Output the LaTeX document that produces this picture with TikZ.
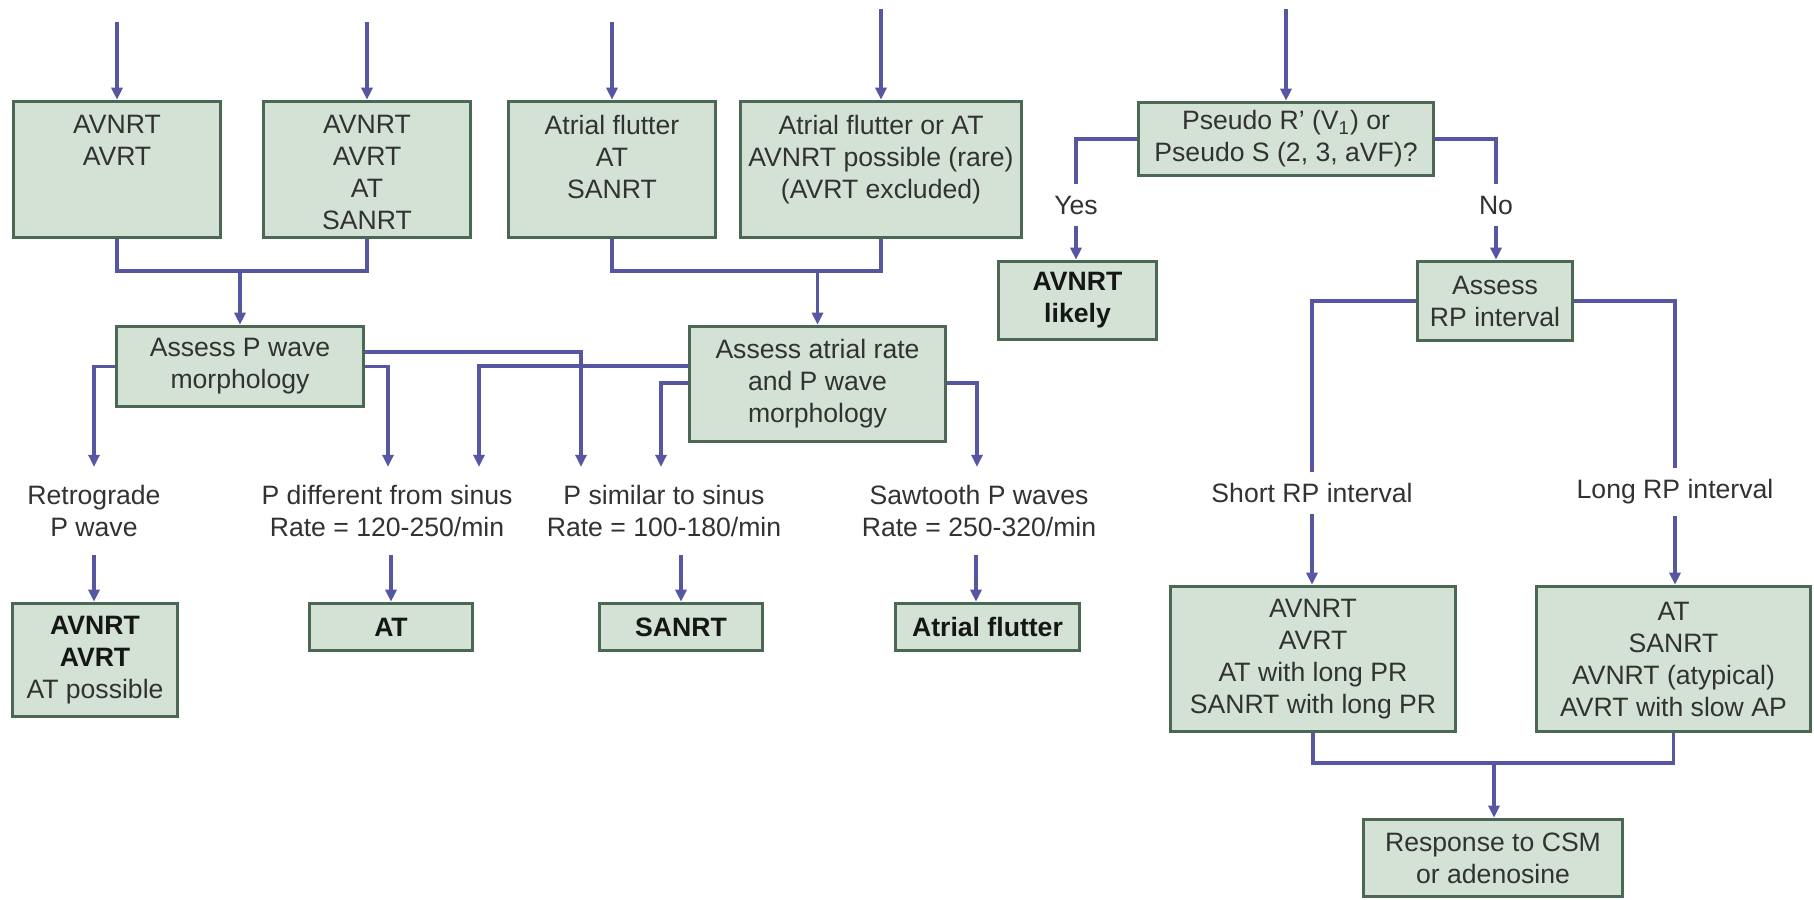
\documentclass[tikz,border=0pt]{standalone}
\usepackage{fontspec}
\setmainfont{Liberation Sans}
\usetikzlibrary{arrows.meta,calc}
\definecolor{boxfill}{RGB}{211,226,213}
\definecolor{boxline}{RGB}{74,104,84}
\definecolor{linec}{RGB}{86,86,162}
\definecolor{txtc}{RGB}{50,50,50}
\definecolor{boldc}{RGB}{22,22,22}
\begin{document}
\begin{tikzpicture}[x=0.5pt,y=-0.5pt,
  font=\fontsize{13.3}{16}\selectfont,
  nbox/.style={draw=boxline, fill=boxfill, line width=1.8pt, inner sep=0pt, align=center, text=txtc},
  boxtext/.style={inner sep=0pt, align=center, text=txtc, anchor=north},
  lbl/.style={align=center, text=txtc, inner xsep=2pt, inner ysep=9pt},
  gaplbl/.style={align=center, text=txtc, inner xsep=2pt, inner ysep=5.5pt},
  lnk/.style={draw=linec, line width=1.6pt},
  arr/.style={lnk, -{Triangle[length=6pt,width=5.5pt]}},
  bt/.style={font=\fontsize{13.3}{16}\selectfont\bfseries, text=boldc}
]
\useasboundingbox (0,0) rectangle (1814,899);
\fill[white] (0,0) rectangle (1814,899);

% ---- top row boxes
\node[nbox, minimum width=103.5pt, minimum height=68pt] (b1) at (117,169.5) {};
\node[nbox, minimum width=103.5pt, minimum height=68pt] (b2) at (367,169.5) {};
\node[nbox, minimum width=103.5pt, minimum height=68pt] (b3) at (612,169.5) {};
\node[nbox, minimum width=140.5pt, minimum height=68pt] (b4) at (881,169.5) {};
\node[boxtext] (b1t) at ($(b1.north)+(0,15)$) {AVNRT\\AVRT};
\node[boxtext] (b2t) at ($(b2.north)+(0,15)$) {AVNRT\\AVRT\\AT\\SANRT};
\node[boxtext] (b3t) at ($(b3.north)+(0,15)$) {Atrial flutter\\AT\\SANRT};
\node[boxtext] (b4t) at ($(b4.north)+(0,15)$) {Atrial flutter or AT\\AVNRT possible (rare)\\(AVRT excluded)};
\node[nbox, minimum width=147.5pt, minimum height=36.5pt] (ps) at (1286,139) {Pseudo R’ (V\textsubscript{1}) or\\Pseudo S (2, 3, aVF)?};

% ---- second row
\node[nbox, minimum width=123.5pt, minimum height=40pt] (ap) at (240,366.5) {Assess P wave\\morphology};
\node[nbox, minimum width=128pt, minimum height=57.5pt] (aa) at (817.5,384) {Assess atrial rate\\and P wave\\morphology};
\node[nbox, bt, minimum width=79pt, minimum height=39pt] (avl) at (1077.5,300.5) {AVNRT\\likely};
\node[nbox, minimum width=77.5pt, minimum height=39.5pt] (arp) at (1495,301) {Assess\\RP interval};

% ---- labels
\node[lbl] (ret) at (94,511) {Retrograde\\P wave};
\node[lbl] (pdiff) at (387,511) {P different from sinus\\Rate = 120-250/min};
\node[lbl] (psim) at (664,511) {P similar to sinus\\Rate = 100-180/min};
\node[lbl] (saw) at (979,511) {Sawtooth P waves\\Rate = 250-320/min};
\node[gaplbl] (yes) at (1076,205) {Yes};
\node[gaplbl] (no) at (1496,205) {No};
\node[gaplbl] (short) at (1312,493) {Short RP interval};
\node[gaplbl] (long) at (1675,492) {Long RP interval};

% ---- result boxes
\node[nbox, minimum width=82.5pt, minimum height=56.5pt] (r1) at (95,660) {{\bfseries\color{boldc}AVNRT}\\{\bfseries\color{boldc}AVRT}\\AT possible};
\node[nbox, bt, minimum width=81.5pt, minimum height=23.5pt] (r2) at (391,627) {AT};
\node[nbox, bt, minimum width=81.5pt, minimum height=23.5pt] (r3) at (681,627) {SANRT};
\node[nbox, bt, minimum width=92pt, minimum height=23.5pt] (r4) at (987.5,627) {Atrial flutter};
\node[nbox, minimum width=142.5pt, minimum height=72.5pt] (sh) at (1313,659) {AVNRT\\AVRT\\AT with long PR\\SANRT with long PR};
\node[nbox, minimum width=137pt, minimum height=72.5pt] (lg) at (1673.5,659) {AT\\SANRT\\AVNRT (atypical)\\AVRT with slow AP};
\node[nbox, minimum width=129.5pt, minimum height=38.5pt] (resp) at (1493,858) {Response to CSM\\or adenosine};

% ---- incoming top arrows
\coordinate (t1) at (117,22);
\coordinate (t2) at (367,22);
\coordinate (t3) at (612,22);
\coordinate (t4) at (881,9);
\coordinate (t5) at (1286,9);
\draw[arr] (t1) -- (b1.north);
\draw[arr] (t2) -- (b2.north);
\draw[arr] (t3) -- (b3.north);
\draw[arr] (t4) -- (b4.north);
\draw[arr] (t5) -- (ps.north);

% ---- merges
\coordinate (m1) at (240,271);
\draw[lnk] (b1.south) |- (m1) -| (b2.south);
\draw[arr] (m1) -- (ap.north);
\coordinate (m2) at (817.5,271);
\draw[lnk] (b3.south) |- (m2) -| (b4.south);
\draw[arr] (m2) -- (aa.north);

% ---- Assess P wave outputs
\draw[arr] (ap.west) -| (ret.north);
\draw[arr] (ap.east) -| ($(pdiff.north)+(1,0)$);
\draw[arr] ($(ap.east)+(0,-14.5)$) -| ($(psim.north)+(-83,0)$);
% ---- Assess atrial outputs
\draw[arr] ($(aa.west)+(0,-18)$) -| ($(pdiff.north)+(92,0)$);
\draw[arr] ($(aa.west)+(0,-1)$) -| ($(psim.north)+(-3,0)$);
\draw[arr] ($(aa.east)+(0,-1)$) -| ($(saw.north)+(-2,0)$);

% ---- labels to results
\draw[arr] (ret.south) -- (ret.south |- r1.north);
\draw[arr] (pdiff.south -| r2.north) -- (r2.north);
\draw[arr] (psim.south -| r3.north) -- (r3.north);
\coordinate (sawx) at ($(saw.south)+(-3,0)$);
\draw[arr] (sawx) -- (sawx |- r4.north);

% ---- yes / no
\draw[lnk] (ps.west) -| (yes.north);
\draw[arr] (yes.south) -- (yes.south |- avl.north);
\draw[lnk] (ps.east) -| (no.north);
\draw[arr] (no.south) -- (no.south |- arp.north);

% ---- RP interval
\draw[lnk] (arp.west) -| (short.north);
\draw[arr] (short.south) -- (short.south |- sh.north);
\draw[lnk] (arp.east) -| (long.north);
\draw[arr] (long.south) -- (long.south |- lg.north);

% ---- final merge
\coordinate (m3) at (1494,763);
\draw[lnk] (sh.south) |- (m3) -| (lg.south);
\draw[arr] (m3) -- (m3 |- resp.north);
\end{tikzpicture}
\end{document}
